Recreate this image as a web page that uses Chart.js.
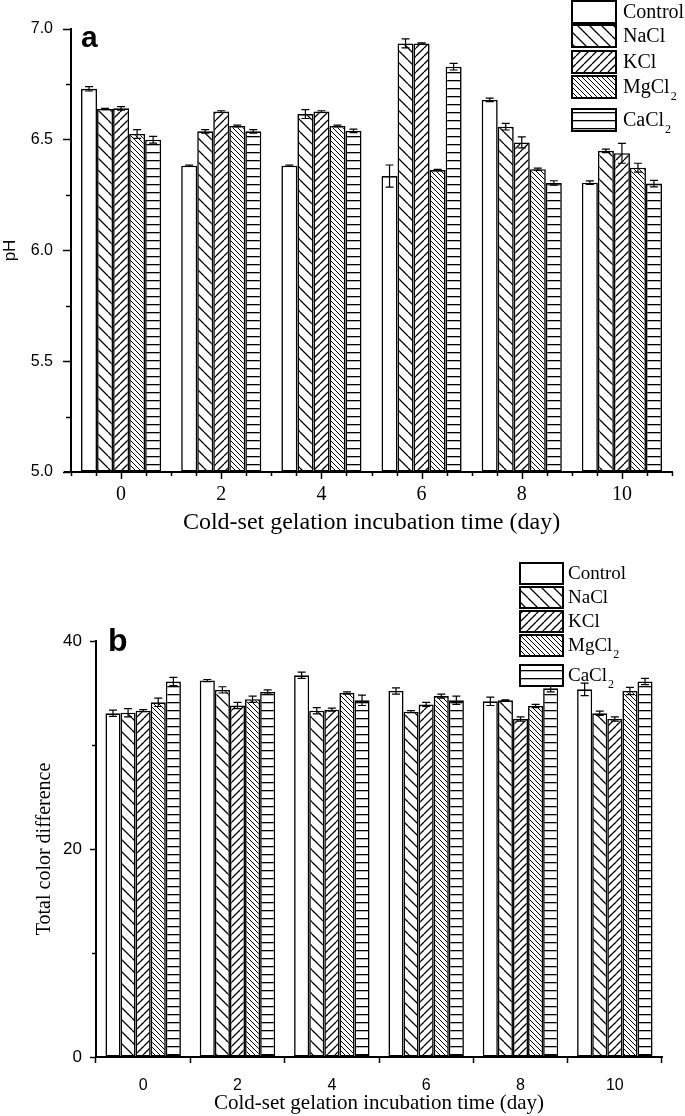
<!DOCTYPE html>
<html><head><meta charset="utf-8">
<script src="https://cdn.jsdelivr.net/npm/chart.js@4.4.1/dist/chart.umd.min.js"></script>
<style>
html,body{margin:0;padding:0;background:#fff;}
#wrap{position:relative;width:685px;height:1116px;overflow:hidden;background:#fff;}
canvas{position:absolute;left:0;}
</style></head><body>
<div id="wrap">
<canvas id="ca" width="685" height="550" style="top:0px"></canvas>
<canvas id="cb" width="685" height="566" style="top:550px"></canvas>
</div>
<script>
// ---------- data ----------
const days = ['0','2','4','6','8','10'];
const seriesNames = ['Control','NaCl','KCl','MgCl2','CaCl2'];

// panel a : pH
const phControl = [6.730, 6.383, 6.383, 6.336, 6.680, 6.306];
const phNaCl    = [6.639, 6.538, 6.616, 6.935, 6.559, 6.450];
const phKCl     = [6.642, 6.627, 6.627, 6.935, 6.488, 6.439];
const phMgCl2   = [6.526, 6.562, 6.562, 6.363, 6.367, 6.374];
const phCaCl2   = [6.500, 6.538, 6.540, 6.830, 6.305, 6.302];
const phErrControl = [0.010, 0.003, 0.003, 0.050, 0.008, 0.008];
const phErrNaCl    = [0.003, 0.008, 0.020, 0.020, 0.015, 0.008];
const phErrKCl     = [0.008, 0.004, 0.004, 0.003, 0.025, 0.045];
const phErrMgCl2   = [0.020, 0.004, 0.004, 0.003, 0.005, 0.020];
const phErrCaCl2   = [0.015, 0.008, 0.008, 0.015, 0.010, 0.015];
const phTicks = [5.0, 5.5, 6.0, 6.5, 7.0];

// panel b : total color difference
const tcdControl = [33.05, 36.2, 36.7, 35.2, 34.2, 35.35];
const tcdNaCl    = [33.1, 35.3, 33.3, 33.2, 34.3, 33.05];
const tcdKCl     = [33.3, 33.8, 33.4, 33.9, 32.5, 32.5];
const tcdMgCl2   = [34.1, 34.4, 35.0, 34.7, 33.75, 35.2];
const tcdCaCl2   = [36.1, 35.1, 34.3, 34.3, 35.45, 36.1];
const tcdErrControl = [0.3, 0.1, 0.3, 0.3, 0.4, 0.6];
const tcdErrNaCl    = [0.4, 0.3, 0.3, 0.1, 0.05, 0.2];
const tcdErrKCl     = [0.1, 0.3, 0.15, 0.2, 0.2, 0.2];
const tcdErrMgCl2   = [0.4, 0.3, 0.1, 0.2, 0.15, 0.35];
const tcdErrCaCl2   = [0.4, 0.2, 0.5, 0.4, 0.35, 0.3];
const tcdTicks = [0, 20, 40];

// ---------- styling ----------
const SANS = '"Liberation Sans", Arial, sans-serif';
const SERIF = '"Liberation Serif", "Times New Roman", serif';

function makePattern(kind, s) {
  if (kind === 'none') return '#ffffff';
  const c = document.createElement('canvas');
  c.width = s; c.height = s;
  const g = c.getContext('2d');
  g.fillStyle = '#fff'; g.fillRect(0, 0, s, s);
  g.strokeStyle = '#000'; g.fillStyle = '#000';
  if (kind === 'h') {
    g.fillRect(0, 0, s, 1.3);
  } else {
    g.lineWidth = kind === 'back_dense' ? 1.0 : 1.3;
    g.beginPath();
    for (const x0 of [-s, 0, s]) {
      if (kind === 'fwd') { g.moveTo(x0 + s, 0); g.lineTo(x0, s); }
      else { g.moveTo(x0, 0); g.lineTo(x0 + s, s); }
    }
    g.stroke();
  }
  return g.createPattern(c, 'repeat');
}
const fills = [
  makePattern('none'),
  makePattern('back', 12),
  makePattern('fwd', 8),
  makePattern('back_dense', 5),
  makePattern('h', 8)
];

const decor = {
  id: 'decor',
  afterDatasetsDraw(chart, args, o) {
    const ctx = chart.ctx, ys = chart.scales.y;
    ctx.save();
    ctx.strokeStyle = '#000'; ctx.lineWidth = 1.2;
    chart.data.datasets.forEach((ds, i) => {
      chart.getDatasetMeta(i).data.forEach((bar, j) => {
        const v = ds.data[j], e = o.errors[i][j];
        const x = bar.x;
        const yt = ys.getPixelForValue(v + e), yb = ys.getPixelForValue(v - e);
        ctx.beginPath();
        ctx.moveTo(x, yt); ctx.lineTo(x, yb);
        ctx.moveTo(x - 4, yt); ctx.lineTo(x + 4, yt);
        ctx.moveTo(x - 4, yb); ctx.lineTo(x + 4, yb);
        ctx.stroke();
      });
    });
    ctx.restore();
  },
  afterDraw(chart, args, o) {
    const ctx = chart.ctx, ca = chart.chartArea, ys = chart.scales.y, xs = chart.scales.x;
    ctx.save();
    ctx.strokeStyle = '#000'; ctx.lineWidth = 1.5;
    // minor y ticks
    for (let v = ys.min; v <= ys.max + 1e-9; v += o.yMinorStep) {
      const r = v / o.yMajorStep;
      if (Math.abs(r - Math.round(r)) < 1e-6) continue;
      const y = Math.round(ys.getPixelForValue(v)) + 0.5;
      ctx.beginPath(); ctx.moveTo(ca.left - o.yMinorLen, y); ctx.lineTo(ca.left, y); ctx.stroke();
    }
    // small extension of the x axis line to the left
    if (o.xAxisExt) {
      ctx.lineWidth = 2;
      ctx.beginPath(); ctx.moveTo(ca.left - o.xAxisExt, ca.bottom); ctx.lineTo(ca.left, ca.bottom); ctx.stroke();
      ctx.lineWidth = 1.5;
    }
    // x ticks drawn by plugin (panel a)
    if (o.xSub) {
      const w = xs.getPixelForValue(1) - xs.getPixelForValue(0);
      const n = chart.data.labels.length;
      for (let k = 0; k <= n * o.xSub; k++) {
        const x = Math.round(ca.left + k * w / o.xSub) + 0.5;
        const major = (k % o.xSub) === o.xSub / 2;
        ctx.beginPath(); ctx.moveTo(x, ca.bottom); ctx.lineTo(x, ca.bottom + (major ? o.xMajorLen : o.xMinorLen)); ctx.stroke();
      }
    }
    // legend
    const L = o.legend;
    chart.data.datasets.forEach((ds, i) => {
      const top = L.tops[i];
      ctx.fillStyle = ds.backgroundColor;
      ctx.fillRect(L.x, top, L.w, L.h);
      ctx.lineWidth = 2; ctx.strokeStyle = '#000';
      ctx.strokeRect(L.x, top, L.w, L.h);
      const name = ds.label;
      ctx.fillStyle = '#000';
      ctx.textBaseline = 'middle'; ctx.textAlign = 'left';
      ctx.font = L.size + 'px ' + SERIF;
      const cy = top + L.h / 2 + 1;
      if (/2$/.test(name)) {
        const base = name.slice(0, -1);
        ctx.fillText(base, L.textX, cy);
        const wd = ctx.measureText(base).width;
        ctx.font = Math.round(L.size * 0.62) + 'px ' + SERIF;
        ctx.fillText('2', L.textX + wd + 1, cy + L.size * 0.45);
      } else {
        ctx.fillText(name, L.textX, cy);
      }
    });
    // panel letter
    ctx.fillStyle = '#000';
    ctx.font = 'bold ' + o.panel.size + 'px ' + SANS;
    ctx.textBaseline = 'alphabetic'; ctx.textAlign = 'left';
    ctx.fillText(o.panel.text, o.panel.x, o.panel.y);
    ctx.restore();
  }
};

function datasetsFrom(arrs, base) {
  return arrs.map((d, i) => ({
    label: seriesNames[i], data: d,
    backgroundColor: fills[i], borderColor: '#000', borderWidth: 1.6,
    borderSkipped: false, base: base,
    categoryPercentage: 0.8, barPercentage: 1.0
  }));
}

// ---------- chart a ----------
new Chart(document.getElementById('ca'), {
  type: 'bar',
  data: { labels: days, datasets: datasetsFrom([phControl, phNaCl, phKCl, phMgCl2, phCaCl2], 5) },
  options: {
    responsive: false, animation: false, devicePixelRatio: 1,
    layout: { padding: { left: 0, top: 29, right: 13, bottom: 0 } },
    plugins: {
      legend: { display: false }, tooltip: { enabled: false },
      decor: {
        errors: [phErrControl, phErrNaCl, phErrKCl, phErrMgCl2, phErrCaCl2],
        yMinorStep: 0.25, yMajorStep: 0.5, yMinorLen: 5,
        xSub: 4, xMajorLen: 7, xMinorLen: 4, xAxisExt: 7,
        legend: { x: 572, w: 44, h: 22, tops: [1, 25, 51, 76, 109], textX: 623, size: 20 },
        panel: { text: 'a', x: 81, y: 47, size: 30 }
      }
    },
    scales: {
      x: {
        afterFit: s => { s.height = 78; },
        grid: { display: true, drawOnChartArea: false, drawTicks: false },
        border: { display: true, color: '#000', width: 2 },
        ticks: { color: '#000', padding: 11, font: { family: SERIF, size: 20 } },
        title: { display: true, text: 'Cold-set gelation incubation time (day)', color: '#000',
                 font: { family: SERIF, size: 24 }, padding: { top: 0, bottom: 13 } }
      },
      y: {
        min: 5, max: 7,
        afterFit: s => { s.width = 71; },
        afterBuildTicks: s => { s.ticks = phTicks.map(v => ({ value: v })); },
        grid: { display: true, drawOnChartArea: false, drawTicks: true, tickLength: 8, tickWidth: 1.5, tickColor: '#000' },
        border: { display: true, color: '#000', width: 2 },
        ticks: { color: '#000', padding: 10, font: { family: SANS, size: 16 }, callback: v => Number(v).toFixed(1) },
        title: { display: true, text: 'pH', color: '#000', font: { family: SANS, size: 17 }, padding: { top: 0, bottom: 0 } }
      }
    }
  },
  plugins: [decor]
});

// ---------- chart b ----------
new Chart(document.getElementById('cb'), {
  type: 'bar',
  data: { labels: days, datasets: datasetsFrom([tcdControl, tcdNaCl, tcdKCl, tcdMgCl2, tcdCaCl2], 0) },
  options: {
    responsive: false, animation: false, devicePixelRatio: 1,
    layout: { padding: { left: 0, top: 91, right: 23, bottom: 0 } },
    plugins: {
      legend: { display: false }, tooltip: { enabled: false },
      decor: {
        errors: [tcdErrControl, tcdErrNaCl, tcdErrKCl, tcdErrMgCl2, tcdErrCaCl2],
        yMinorStep: 10, yMajorStep: 20, yMinorLen: 4,
        legend: { x: 520, w: 43, h: 21, tops: [13, 37, 61, 85, 115], textX: 568, size: 19 },
        panel: { text: 'b', x: 108, y: 101, size: 32 }
      }
    },
    scales: {
      x: {
        afterFit: s => { s.height = 59; },
        grid: { display: true, drawOnChartArea: false, drawTicks: true, tickLength: 6, tickWidth: 1.5, tickColor: '#000', offset: true },
        border: { display: true, color: '#000', width: 2 },
        ticks: { color: '#000', padding: 13, font: { family: SANS, size: 16 } },
        title: { display: true, text: 'Cold-set gelation incubation time (day)', color: '#000',
                 font: { family: SERIF, size: 21 }, padding: { top: 0, bottom: 0 } }
      },
      y: {
        min: 0, max: 40,
        afterFit: s => { s.width = 96; },
        afterBuildTicks: s => { s.ticks = tcdTicks.map(v => ({ value: v })); },
        grid: { display: true, drawOnChartArea: false, drawTicks: true, tickLength: 6, tickWidth: 1.5, tickColor: '#000' },
        border: { display: true, color: '#000', width: 2 },
        ticks: { color: '#000', padding: 8, font: { family: SANS, size: 17 } },
        title: { display: true, text: 'Total color difference', color: '#000', font: { family: SERIF, size: 20 }, padding: { top: 33, bottom: 0 } }
      }
    }
  },
  plugins: [decor]
});
</script>
</body></html>
